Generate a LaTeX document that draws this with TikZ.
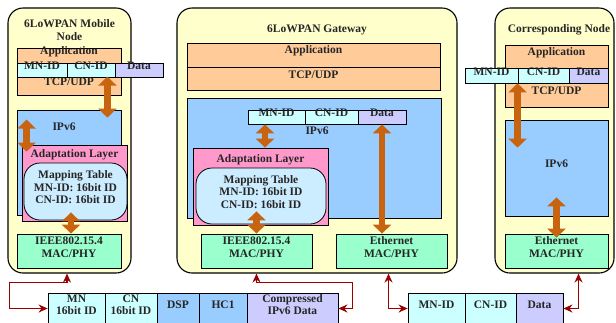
\documentclass[tikz,border=0pt]{standalone}
\usepackage{fontspec}
\setmainfont{Liberation Serif}
\usetikzlibrary{arrows.meta,calc,fit}

\definecolor{hostfill}{HTML}{FFFFCC}
\definecolor{upperfill}{HTML}{FFCC99}
\definecolor{idfill}{HTML}{CCFFFF}
\definecolor{datafill}{HTML}{CCCCFF}
\definecolor{ipfill}{HTML}{99CCFF}
\definecolor{adpfill}{HTML}{FF99CC}
\definecolor{mapfill}{HTML}{CCECFF}
\definecolor{macfill}{HTML}{99FFCC}
\definecolor{fatarrow}{HTML}{C86410}
\definecolor{linkred}{HTML}{990000}

\begin{document}
\begin{tikzpicture}[x=1pt,y=-1pt,
  every node/.style={font=\fontsize{11.5}{12.5}\selectfont\bfseries, text=black!85, align=center, inner sep=0pt},
  host/.style={draw=black, line width=1.1pt, fill=hostfill, rounded corners=15pt},
  blk/.style={draw=black, line width=0.8pt},
  upper/.style={blk, fill=upperfill},
  idcell/.style={blk, fill=idfill},
  datacell/.style={blk, fill=datafill},
  ipv/.style={blk, fill=ipfill},
  adp/.style={blk, fill=adpfill},
  maptab/.style={blk, fill=mapfill, rounded corners=16pt},
  mac/.style={blk, fill=macfill},
  txt/.style={},
  fat/.style={draw=fatarrow, line width=6.5pt,
    {Triangle[width=18pt,length=9pt]}-{Triangle[width=18pt,length=9pt]}},
  link/.style={draw=linkred, line width=1.6pt,
    {Stealth[length=9pt,width=8pt]}-{Stealth[length=9pt,width=8pt]}}
]
\useasboundingbox (0,0) rectangle (616,322);

% ---------- 6LoWPAN mobile node ----------
\node[host, fit={(8,8) (131,273)}] (mob) {};
\node[txt] (mobt) at (69.5,30) {6LoWPAN Mobile\\Node};
\node[upper, fit={(17,48) (121,63)}] (mapp) {Application};
\node[idcell, fit={(17,63) (67,77)}] (mmn) {MN-ID};
\node[idcell, fit={(67,63) (115,77)}] (mcn) {CN-ID};
\node[datacell, fit={(115,63) (163,77)}] (mdata) {Data};
\node[upper, fit={(17,77) (121,95)}] (mtcp) {TCP/UDP};
\node[ipv, fit={(17,110) (121,215)}] (mip) {};
\node[txt] (mipt) at (64,127) {IPv6};
\node[adp, fit={(22,145) (127,221)}] (madp) {};
\node[txt] (madpt) at (74.5,155) {Adaptation Layer};
\node[maptab, fit={(24,163) (127,220)}] (mmap) {Mapping Table\\MN-ID: 16bit ID\\CN-ID: 16bit ID};
\node[mac, fit={(17,234) (121,268)}] (mphy) {IEEE802.15.4\\MAC/PHY};

\draw[fat] ([xshift=-14pt]mtcp.north east) -- ([xshift=-14pt,yshift=-8pt]mip.north east);
\draw[fat] ([xshift=10pt,yshift=-10pt]mip.north west) -- ([xshift=5pt,yshift=-7pt]madp.north west);
\draw[fat] ($(mphy.north |- mmap.south)+(2,-8)$) -- ([xshift=2pt]mphy.north);

% ---------- 6LoWPAN gateway ----------
\node[host, fit={(177,8) (457,273)}] (gw) {};
\node[txt] (gwt) at (317,30) {6LoWPAN Gateway};
\node[upper, fit={(187,43) (440,67)}] (gapp) {Application};
\node[upper, fit={(187,67) (440,90)}] (gtcp) {TCP/UDP};
\node[ipv, fit={(187,98) (441,218)}] (gip) {};
\node[txt] (gipt) at (317,131) {IPv6};
\node[idcell, fit={(248,110) (305,124)}] (gmn) {MN-ID};
\node[idcell, fit={(305,110) (358,124)}] (gcn) {CN-ID};
\node[datacell, fit={(358,110) (406,124)}] (gdata) {Data};
\node[adp, fit={(193,148) (328,225)}] (gadp) {};
\node[txt] (gadpt) at (260.5,160) {Adaptation Layer};
\node[maptab, fit={(196,168) (326,224)}] (gmap) {Mapping Table\\MN-ID: 16bit ID\\CN-ID: 16bit ID};
\node[mac, fit={(201,234) (312,268)}] (gphy) {IEEE802.15.4\\MAC/PHY};
\node[mac, fit={(336,234) (447,268)}] (geth) {Ethernet\\MAC/PHY};

\draw[fat] ([xshift=-11.5pt]gmn.south) -- ([xshift=-11.5pt]gmn.south |- gadp.north);
\draw[fat] (gdata.south) -- (gdata.south |- geth.north);
\draw[fat] ($(gphy.north |- gmap.south)+(0,-13)$) -- (gphy.north);

% ---------- corresponding node ----------
\node[host, fit={(495,8) (614,273)}] (cn) {};
\node[txt] (cnt) at (559,30) {Corresponding Node};
\node[upper, fit={(505,45) (608,68)}] (capp) {Application};
\node[idcell, fit={(465,68) (518,83)}] (cmn) {MN-ID};
\node[idcell, fit={(518,68) (569,83)}] (ccn) {CN-ID};
\node[datacell, fit={(569,68) (608,83)}] (cdata) {Data};
\node[upper, fit={(505,83) (608,107)}] (ctcp) {TCP/UDP};
\node[ipv, fit={(505,120) (608,216)}] (cip) {IPv6};
\node[mac, fit={(505,234) (608,268)}] (ceth) {Ethernet\\MAC/PHY};

\draw[fat] (ccn.south west) -- ($(ccn.south west |- cip.north)+(0,28)$);
\draw[fat] ($(cip.south)+(0,-19)$) -- ($(ceth.north)+(0,4)$);

% ---------- compressed 6LoWPAN frame ----------
\node[idcell, fit={(48,293) (105,324)}] (pmn) {MN\\16bit ID};
\node[idcell, fit={(105,293) (157,324)}] (pcn) {CN\\16bit ID};
\node[ipv, fit={(157,293) (199,324)}] (pdsp) {DSP};
\node[ipv, fit={(199,293) (247,324)}] (phc) {HC1};
\node[datacell, fit={(247,293) (338,324)}] (pcomp) {Compressed\\IPv6 Data};

% ---------- Ethernet frame ----------
\node[idcell, fit={(408,293) (465,324)}] (qmn) {MN-ID};
\node[idcell, fit={(465,293) (516,324)}] (qcn) {CN-ID};
\node[datacell, fit={(516,293) (563,324)}] (qdata) {Data};

% ---------- links ----------
\draw[link] ([xshift=-2pt]mphy.south |- mob.south) -- ++(0,9) -| ([xshift=-38pt]pmn.west) -- (pmn.west);
\draw[link] (gphy.south |- gw.south) -- ++(0,9) -| ([xshift=14pt]pcomp.east) -- (pcomp.east);
\draw[link] ([xshift=-3pt]geth.south |- gw.south) |- (qmn.west);
\coordinate (ctap) at ([xshift=22pt]ceth.south);
\draw[link] (ctap |- cn.south) |- (qdata.east);
\end{tikzpicture}
\end{document}
